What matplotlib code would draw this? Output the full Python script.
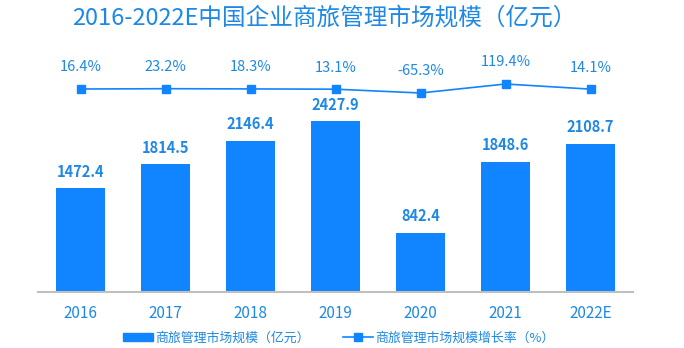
import matplotlib.pyplot as plt
from matplotlib.lines import Line2D
from matplotlib.patches import Patch

plt.rcParams['font.family'] = ['Noto Sans CJK SC', 'DejaVu Sans']

years = ["2016", "2017", "2018", "2019", "2020", "2021", "2022E"]
market_size = [1472.4, 1814.5, 2146.4, 2427.9, 842.4, 1848.6, 2108.7]
growth_rate = [16.4, 23.2, 18.3, 13.1, -65.3, 119.4, 14.1]

blue = "#1184FF"
text_blue = "#1E88E5"
W, H = 684, 348

fig = plt.figure(figsize=(W / 100, H / 100), dpi=100)

# bars
ax = fig.add_axes([38 / W, 1 - 292 / H, 595 / W, 211 / H])
x = range(len(years))
ax.bar(x, market_size, width=0.57, color=blue)
for xi, v in zip(x, market_size):
    ax.annotate(f"{v:.1f}", (xi, v), xytext=(0, 12), textcoords="offset points",
                ha="center", va="center", color=text_blue, fontsize=10.5, fontweight="bold")
ax.set_xlim(-0.5, len(years) - 0.5)
ax.set_ylim(0, 3000)
ax.set_xticks(list(x))
ax.set_xticklabels(years, color=text_blue, fontsize=11)
ax.tick_params(axis="x", length=0, pad=9)
ax.set_yticks([])
for s in ["top", "right", "left"]:
    ax.spines[s].set_visible(False)
ax.spines["bottom"].set_color("#BFBFBF")
ax.spines["bottom"].set_linewidth(1.5)

# growth line
ax2 = fig.add_axes([38 / W, 1 - 100 / H, 595 / W, 40 / H])
ax2.plot(list(x), growth_rate, color=blue, lw=1.2, marker="s", markersize=6)
for xi, v in zip(x, growth_rate):
    ax2.annotate(f"{v:.1f}%", (xi, v), xytext=(0, 15.5), textcoords="offset points",
                 ha="center", va="center", color=text_blue, fontsize=10.5)
ax2.set_xlim(-0.5, len(years) - 0.5)
ax2.set_ylim(-209, 612)
ax2.axis("off")

fig.text(0.474, 1 - 18 / H, "2016-2022E中国企业商旅管理市场规模（亿元）",
         ha="center", va="center", color=text_blue, fontsize=17)

handles = [Patch(color=blue, label="商旅管理市场规模（亿元）"),
           Line2D([], [], color=blue, marker="s", markersize=6, lw=1.2,
                  label="商旅管理市场规模增长率（%）")]
leg = fig.legend(handles=handles, loc="center", bbox_to_anchor=(339 / W, 10 / H),
                 ncol=2, frameon=False, fontsize=9.3, handlelength=2.3,
                 handleheight=0.6, handletextpad=0.2, columnspacing=2.6)
for t in leg.get_texts():
    t.set_color(text_blue)

fig.savefig("out.png", dpi=100)
